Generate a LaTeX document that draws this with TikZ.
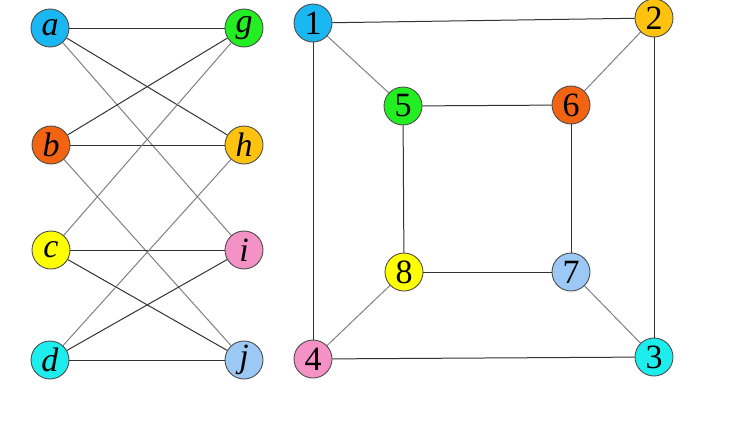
\documentclass[tikz,border=0pt]{standalone}
\usepackage{fontspec}
\setmainfont{Liberation Serif}
\definecolor{skyblue}{HTML}{1BB7F2}
\definecolor{leafgreen}{HTML}{22EE22}
\definecolor{deeporange}{HTML}{F26411}
\definecolor{gold}{HTML}{FFC20E}
\definecolor{lemon}{HTML}{FFFF00}
\definecolor{rosepink}{HTML}{F592C5}
\definecolor{aqua}{HTML}{1EEDED}
\definecolor{paleblue}{HTML}{9CC8F5}
\tikzset{
  vertex/.style={circle, draw=black!70, line width=0.9pt, minimum size=38pt, inner sep=0pt,
    font=\fontsize{34}{34}\selectfont},
  dark/.style={draw=black!80, line width=1pt},
  light/.style={draw=black!50, line width=1pt}
}
\begin{document}
\begin{tikzpicture}[x=1pt,y=-1pt]
    \useasboundingbox (0,0) rectangle (733,434);
    % bipartite graph
    \node[vertex, fill=skyblue] (a) at (50,28) {\textit{a}};
    \node[vertex, fill=deeporange] (b) at (51,145) {\textit{b}};
    \node[vertex, fill=lemon] (c) at (51,250) {\textit{c}};
    \node[vertex, fill=aqua] (d) at (50,360) {\textit{d}};
    \node[vertex, fill=leafgreen] (g) at (244,28) {\textit{g}};
    \node[vertex, fill=gold] (h) at (244,145) {\textit{h}};
    \node[vertex, fill=rosepink] (i) at (244,250) {\textit{i}};
    \node[vertex, fill=paleblue] (j) at (244,360) {\textit{j}};
    \draw[dark] (a) -- (g);
    \draw[dark] (a) -- (h);
    \draw[light] (a) -- (i);
    \draw[dark] (b) -- (g);
    \draw[dark] (b) -- (h);
    \draw[light] (b) -- (j);
    \draw[light] (c) -- (g);
    \draw[dark] (c) -- (i);
    \draw[dark] (c) -- (j);
    \draw[light] (d) -- (h);
    \draw[dark] (d) -- (i);
    \draw[dark] (d) -- (j);
    % cube graph
    \node[vertex, fill=skyblue] (n1) at (313,23) {1};
    \node[vertex, fill=gold] (n2) at (654,18) {2};
    \node[vertex, fill=aqua] (n3) at (654,357) {3};
    \node[vertex, fill=rosepink] (n4) at (313,359) {4};
    \node[vertex, fill=leafgreen] (n5) at (403,106) {5};
    \node[vertex, fill=deeporange] (n6) at (571,105) {6};
    \node[vertex, fill=paleblue] (n7) at (571,272) {7};
    \node[vertex, fill=lemon] (n8) at (404,272) {8};
    \draw[dark] (n1) -- (n2);
    \draw[dark] (n1) -- (n4);
    \draw[light] (n1) -- (n5);
    \draw[dark] (n2) -- (n3);
    \draw[light] (n2) -- (n6);
    \draw[dark] (n4) -- (n3);
    \draw[light] (n4) -- (n8);
    \draw[light] (n7) -- (n3);
    \draw[dark] (n5) -- (n6);
    \draw[dark] (n5) -- (n8);
    \draw[dark] (n6) -- (n7);
    \draw[dark] (n8) -- (n7);
\end{tikzpicture}
\end{document}
